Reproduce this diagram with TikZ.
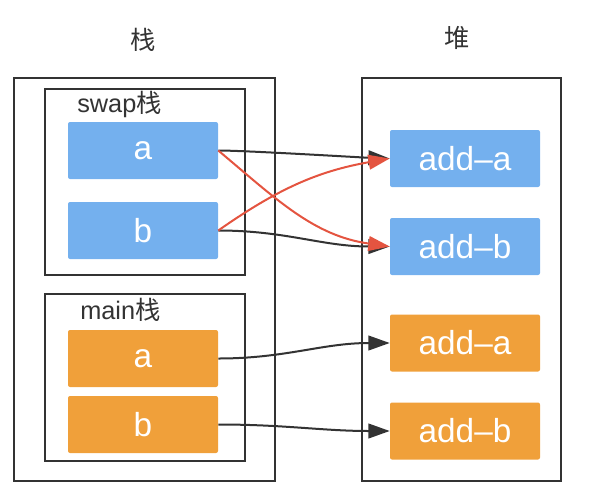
\documentclass[tikz,border=0pt]{standalone}
\usepackage{fontspec}
\setmainfont{Liberation Sans}
\newfontfamily\cjk{Noto Sans CJK SC}
\usetikzlibrary{arrows.meta}
\definecolor{cellblue}{RGB}{116,176,238}
\definecolor{cellorange}{RGB}{240,160,58}
\definecolor{linkred}{RGB}{228,84,64}
\definecolor{ink}{RGB}{51,51,51}
\begin{document}
\begin{tikzpicture}[x=0.75pt, y=-0.75pt, >={Triangle[length=16pt,width=11pt]},
  cell/.style={fill=#1, text=white, rounded corners=1.5pt, inner sep=0pt,
    minimum width=112.5pt, minimum height=42.75pt, font=\fontsize{25}{25}\selectfont},
  frame/.style={draw=ink, line width=1.5pt},
  label/.style={text=ink, inner sep=0pt, font=\fontsize{19}{19}\selectfont},
  link/.style={->, draw=ink, line width=1.5pt},
  cross/.style={->, draw=linkred, line width=1.5pt}]
\useasboundingbox (0,0) rectangle (590,494);

  % frames
  \draw[frame] (14,78) rectangle (275,481);
  \draw[frame] (45,89) rectangle (245,275);
  \draw[frame] (45,294) rectangle (245,461);
  \draw[frame] (362,78) rectangle (561,481);

  \node[label] (stack) at (143,40) {\cjk 栈};
  \node[label] (heap) at (457,38) {\cjk 堆};
  \node[label, anchor=west] (swapname) at (77,104) {swap{\cjk 栈}};
  \node[label, anchor=west] (mainname) at (80,310) {main{\cjk 栈}};

  % stack cells
  \node[cell=cellblue] (sa) at (143,150.5) {a};
  \node[cell=cellblue] (sb) at (143,230.5) {b};
  \node[cell=cellorange] (ma) at (143,358.5) {a};
  \node[cell=cellorange] (mb) at (143,424.5) {b};

  % heap cells
  \node[cell=cellblue] (ha) at (465,158.5) {add–a};
  \node[cell=cellblue] (hb) at (465,246.5) {add–b};
  \node[cell=cellorange] (hc) at (465,343) {add–a};
  \node[cell=cellorange] (hd) at (465,431) {add–b};

  \draw[link] (sa.east) to[out=0, in=178, looseness=0.4] (ha.west);
  \draw[link] (sb.east) to[out=0, in=180] (hb.west);
  \draw[cross] (sa.east) to[out=-40, in=172] (hb.west);
  \draw[cross] (sb.east) to[out=35, in=190] (ha.west);
  \draw[link] (ma.east) to[out=0, in=180] (hc.west);
  \draw[link] (mb.east) to[out=0, in=180] (hd.west);
\end{tikzpicture}
\end{document}
